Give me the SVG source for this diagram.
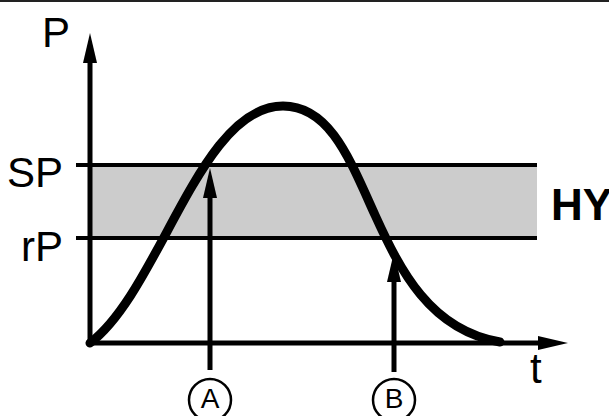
<svg xmlns="http://www.w3.org/2000/svg" width="609" height="416" viewBox="0 0 609 416">
<style>
  text { font-family: "Liberation Sans", Arial, sans-serif; fill: #000; }
  .lbl { font-size: 42px; }
  .ax { stroke: #000; stroke-width: 5; fill: none; }
  .lim { stroke: #000; stroke-width: 4; fill: none; }
  .ptr { stroke: #000; stroke-width: 5; fill: none; }
  .circ { stroke: #000; stroke-width: 2.5; fill: #fff; }
  .curve { stroke: #000; stroke-width: 9; fill: none; stroke-linecap: round; }
</style>
<defs>
  <marker id="ah" markerUnits="userSpaceOnUse" markerWidth="32" markerHeight="14" refX="10" refY="7" orient="auto" overflow="visible">
    <path d="M0,0 L30,7 L0,14 z" fill="#000"/>
  </marker>
</defs>
<rect x="0" y="0" width="609" height="2" fill="#222"/>
<g id="band">
  <rect x="91" y="165" width="446" height="73" fill="#cccccc"/>
</g>
<g id="connectors">
  <line class="lim" x1="76" y1="165" x2="537" y2="165"/>
  <line class="lim" x1="76" y1="238" x2="537" y2="238"/>
  <line class="ax" x1="90" y1="345" x2="90" y2="53" marker-end="url(#ah)"/>
  <line class="ax" x1="88" y1="343" x2="548" y2="343" marker-end="url(#ah)"/>
  <line class="ptr" x1="210" y1="370" x2="210" y2="188" marker-end="url(#ah)"/>
  <line class="ptr" x1="394" y1="372" x2="394" y2="272" marker-end="url(#ah)"/>
</g>
<g id="curve">
  <path class="curve" d="M90,343 C160,290 200,106 283,106 C330,106 350,160 375,215 C400,270 430,330 500,342"/>
</g>
<g id="labels">
  <text class="lbl" x="42" y="47">P</text>
  <text class="lbl" x="63" y="187" text-anchor="end">SP</text>
  <text class="lbl" x="63" y="261" text-anchor="end">rP</text>
  <text x="551" y="220" font-size="44" font-weight="bold">HY</text>
  <text class="lbl" x="530" y="383">t</text>
</g>
<g id="nodeA">
  <circle class="circ" cx="210" cy="400" r="21"/>
  <text x="210" y="408" font-size="28" text-anchor="middle">A</text>
</g>
<g id="nodeB">
  <circle class="circ" cx="394" cy="400" r="21"/>
  <text x="394" y="408" font-size="28" text-anchor="middle">B</text>
</g>
</svg>
